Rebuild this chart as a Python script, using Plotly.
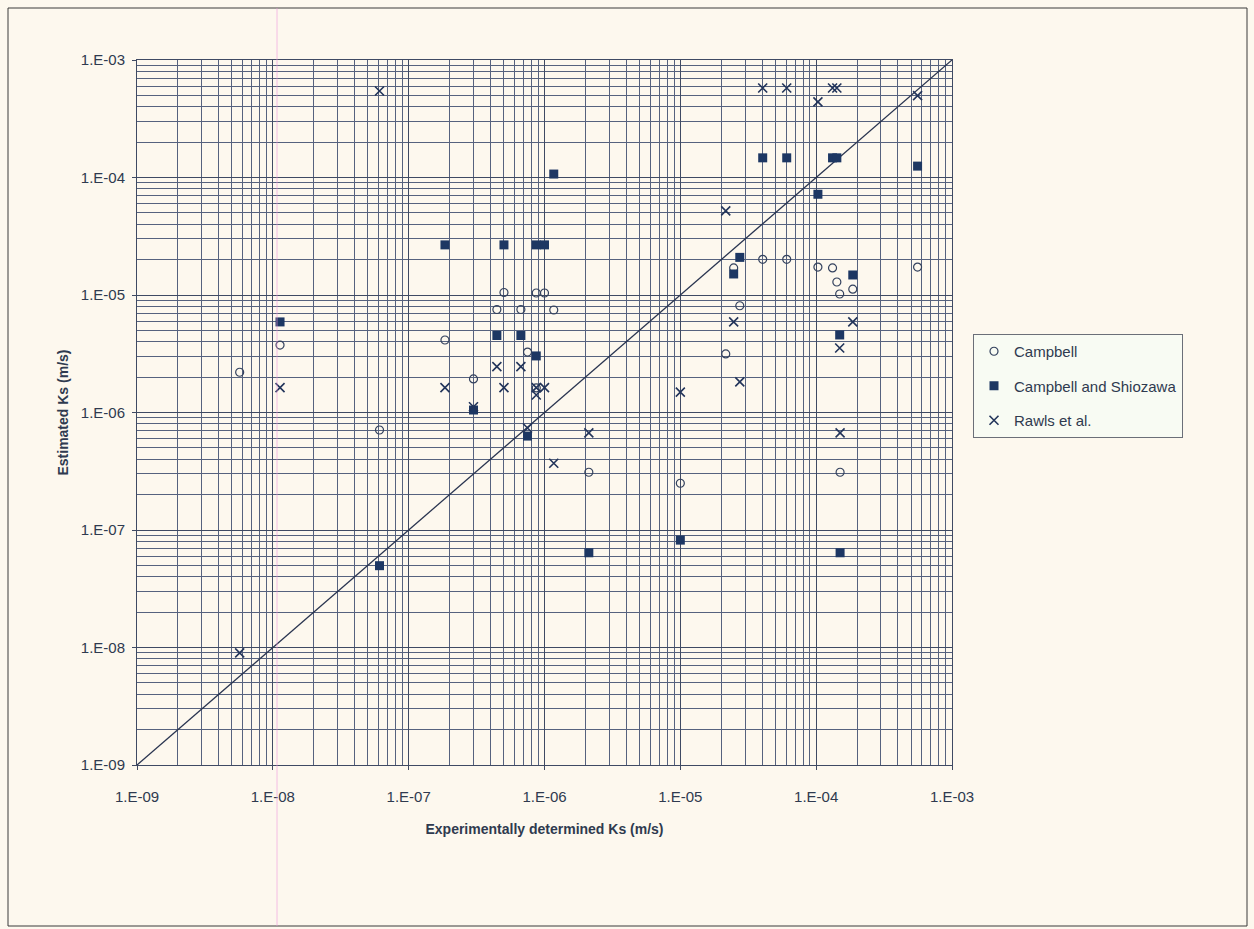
import plotly.graph_objects as go

# Experimentally determined Ks (m/s) for each soil
exp_ks = [5.7e-9, 1.13e-8, 6.1e-8, 1.85e-7, 3.0e-7, 4.46e-7, 5.03e-7, 6.7e-7, 7.5e-7,
          8.7e-7, 8.7e-7, 1.0e-6, 1.17e-6, 2.12e-6, 1.0e-5, 2.16e-5, 2.47e-5, 2.74e-5,
          4.04e-5, 6.07e-5, 1.03e-4, 1.32e-4, 1.42e-4, 1.49e-4, 1.5e-4, 1.86e-4, 5.58e-4]

campbell = [2.2e-6, 3.75e-6, 7.1e-7, 4.14e-6, 1.93e-6, 7.53e-6, 1.05e-5, 7.53e-6, 3.27e-6,
            1.04e-5, 1.62e-6, 1.04e-5, 7.45e-6, 3.1e-7, 2.5e-7, 3.15e-6, 1.70e-5, 8.1e-6,
            2.01e-5, 2.01e-5, 1.73e-5, 1.70e-5, 1.29e-5, 1.02e-5, 3.1e-7, 1.12e-5, 1.73e-5]

campbell_shiozawa = [None, 5.9e-6, 4.97e-8, 2.67e-5, 1.05e-6, 4.52e-6, 2.67e-5, 4.52e-6, 6.3e-7,
                     2.67e-5, 3.03e-6, 2.67e-5, 1.07e-4, 6.4e-8, 8.2e-8, None, 1.51e-5, 2.09e-5,
                     1.47e-4, 1.47e-4, 7.2e-5, 1.47e-4, 1.47e-4, 4.57e-6, 6.4e-8, 1.48e-5, 1.25e-4]

rawls = [9.0e-9, 1.63e-6, 5.45e-4, 1.63e-6, 1.12e-6, 2.46e-6, 1.63e-6, 2.46e-6, 7.38e-7,
         1.63e-6, 1.41e-6, 1.63e-6, 3.7e-7, 6.7e-7, 1.49e-6, 5.2e-5, 5.9e-6, 1.82e-6,
         5.78e-4, 5.78e-4, 4.4e-4, 5.78e-4, 5.78e-4, 3.54e-6, 6.7e-7, 5.9e-6, 4.97e-4]

line_ends = [1e-9, 1e-3]
decades = [-9, -8, -7, -6, -5, -4, -3]
tick_labels = ["1.E-09", "1.E-08", "1.E-07", "1.E-06", "1.E-05", "1.E-04", "1.E-03"]

major_vals = [10.0 ** e for e in decades]
minor_vals = [k * 10.0 ** e for e in decades[:-1] for k in range(2, 10)]

NAVY = "#1d3763"
GRID = "#56627e"
TXT = "#2f3a4f"
FONT = "Liberation Sans Narrow, Arial Narrow, Liberation Sans, Arial, sans-serif"

fig = go.Figure()

fig.add_trace(go.Scatter(
    x=line_ends, y=line_ends, mode="lines",
    line=dict(color="#2a3550", width=1.3), showlegend=False, hoverinfo="skip"))

fig.add_trace(go.Scatter(
    x=exp_ks, y=campbell, mode="markers", name="Campbell", legendgroup="a",
    marker=dict(symbol="circle-open", size=8, color="#34425e", line=dict(width=1.2))))

fig.add_trace(go.Scatter(
    x=exp_ks, y=campbell_shiozawa, mode="markers", name="Campbell and Shiozawa", legendgroup="b",
    marker=dict(symbol="square", size=9, color=NAVY)))

fig.add_trace(go.Scatter(
    x=exp_ks, y=rawls, mode="markers", name="Rawls et al.", legendgroup="c",
    marker=dict(symbol="x-thin-open", size=9, color="#22345a", line=dict(width=1.6))))

axis_common = dict(
    type="log", range=[-9, -3],
    tickmode="array", tickvals=major_vals, ticktext=tick_labels,
    showgrid=True, gridcolor="#3f4a63", gridwidth=1,
    minor=dict(tickmode="array", tickvals=minor_vals, showgrid=True,
               gridcolor=GRID, gridwidth=1, ticks=""),
    showline=True, linecolor="#3f4a63", linewidth=1, mirror=True,
    ticks="outside", ticklen=4, tickcolor="#3f4a63",
    tickfont=dict(family=FONT, size=15, color=TXT),
    zeroline=False,
)

fig.update_xaxes(**axis_common, ticklabelstandoff=14,
                 title=dict(text="<b>Experimentally determined Ks (m/s)</b>",
                            font=dict(family=FONT, size=14, color=TXT), standoff=20))
fig.update_yaxes(**axis_common, ticklabelstandoff=4,
                 title=dict(text="<b>Estimated Ks (m/s)</b>",
                            font=dict(family=FONT, size=14, color=TXT), standoff=8))

W, H = 1254, 929
L, R, T, B = 137, 302, 60, 164
pw, ph = W - L - R, H - T - B

def px_x(p):
    return (p - L) / pw

def px_y(p):
    return 1 - (p - T) / ph

shapes = [
    # outer chart frame
    dict(type="rect", xref="paper", yref="paper",
         x0=px_x(8), x1=px_x(1247), y0=px_y(926), y1=px_y(8),
         line=dict(color="#3a3a3a", width=1), layer="below"),
    # faint pink scan line
    dict(type="line", xref="paper", yref="paper",
         x0=px_x(277), x1=px_x(277), y0=px_y(926), y1=px_y(8),
         line=dict(color="rgba(240,150,220,0.6)", width=1), layer="above"),
]

fig.update_layout(
    width=W, height=H,
    margin=dict(l=L, r=R, t=T, b=B),
    paper_bgcolor="#fdf8ee", plot_bgcolor="#fdf8ee",
    shapes=shapes,
    legend=dict(
        x=px_x(973), y=px_y(334), xanchor="left", yanchor="top",
        bgcolor="#f8fbf3", bordercolor="#6b6f78", borderwidth=1,
        font=dict(family=FONT, size=15, color=TXT),
        itemwidth=30, tracegroupgap=12,
    ),
    showlegend=True,
)

fig.write_html("out.html")
